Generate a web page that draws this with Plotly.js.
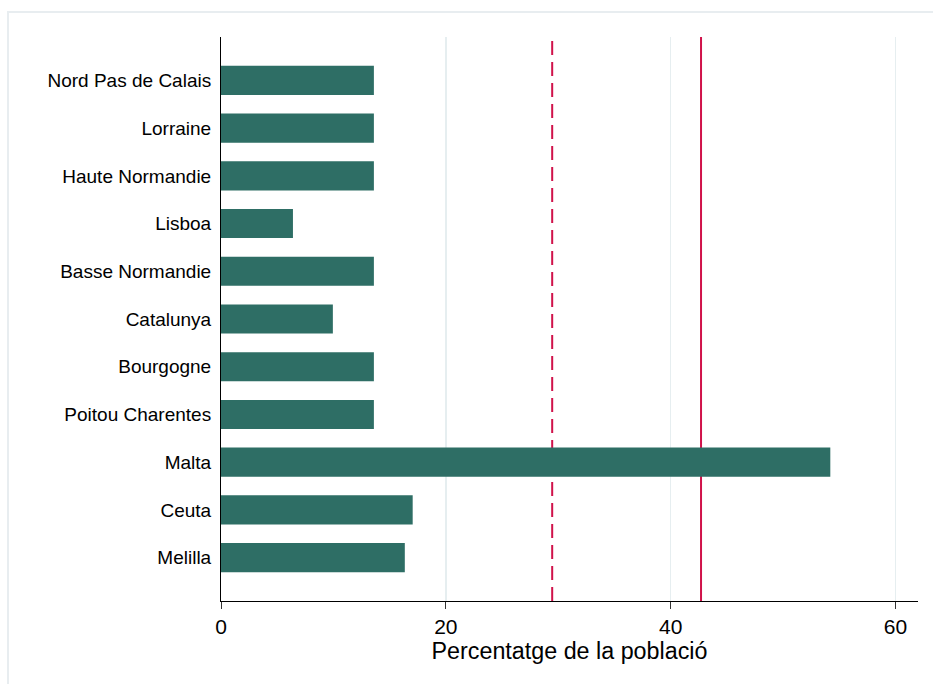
<!DOCTYPE html>
<html>
<head>
<meta charset="utf-8">
<script src="https://cdn.plot.ly/plotly-3.0.1.min.js"></script>
<style>html,body{margin:0;padding:0;background:#fff;}#chart{width:933px;height:684px;}</style>
</head>
<body>
<div id="chart"></div>
<script>
// Categories, top to bottom as shown
const regions = ["Nord Pas de Calais","Lorraine","Haute Normandie","Lisboa","Basse Normandie","Catalunya","Bourgogne","Poitou Charentes","Malta","Ceuta","Melilla"];
const values = [13.6, 13.6, 13.6, 6.4, 13.6, 9.95, 13.6, 13.6, 54.2, 17.05, 16.35];
// Reference lines
const refDashed = 29.46;
const refSolid = 42.7;
const xTicks = [0, 20, 40, 60];
const xTitle = "Percentatge de la població";

const barColor = "#2e6e65";
const lineColor = "#d0124a";
const fontFam = "'Liberation Sans', Arial, sans-serif";

const trace = {
  type: "bar",
  orientation: "h",
  y: regions,
  x: values,
  width: 0.61,
  marker: {color: barColor, line: {width: 0}},
  hoverinfo: "x+y"
};

const layout = {
  width: 933, height: 684,
  margin: {l: 221, r: 15, t: 37, b: 83},
  paper_bgcolor: "#ffffff",
  plot_bgcolor: "#ffffff",
  showlegend: false,
  font: {family: fontFam, color: "#000"},
  xaxis: {
    range: [0, 62.0],
    tickvals: xTicks,
    ticktext: xTicks.map(String),
    ticks: "outside", ticklen: 7, tickcolor: "#333", tickwidth: 1,
    tickfont: {size: 21, family: fontFam, color: "#000"},
    showgrid: true, gridcolor: "#e6eef0", gridwidth: 1.5,
    zeroline: false,
    showline: true, linecolor: "#000", linewidth: 1,
    title: {text: xTitle, font: {size: 23.3, family: fontFam, color: "#000"}, standoff: 5},
    fixedrange: true
  },
  yaxis: {
    type: "category",
    categoryorder: "array",
    categoryarray: regions.slice().reverse(),
    range: [-0.91, 10.91],
    ticks: "",
    ticklabelstandoff: 5,
    tickfont: {size: 19, family: fontFam, color: "#000"},
    showgrid: false, zeroline: false,
    showline: true, linecolor: "#000", linewidth: 1,
    fixedrange: true
  },
  shapes: [
    {type: "rect", xref: "paper", yref: "paper", x0: -0.3056, x1: 1.2, y0: -0.3, y1: 1.0443,
     line: {color: "#e8edf0", width: 2}, fillcolor: "rgba(0,0,0,0)", layer: "below"},
    {type: "line", xref: "x", yref: "paper", x0: refDashed, x1: refDashed, y0: 0, y1: 1,
     line: {color: lineColor, width: 2, dash: "14px,7px"}, layer: "below"},
    {type: "line", xref: "x", yref: "paper", x0: refSolid, x1: refSolid, y0: 0, y1: 1,
     line: {color: lineColor, width: 2}, layer: "below"}
  ]
};

Plotly.newPlot("chart", [trace], layout, {displayModeBar: false, staticPlot: true});
</script>
</body>
</html>
